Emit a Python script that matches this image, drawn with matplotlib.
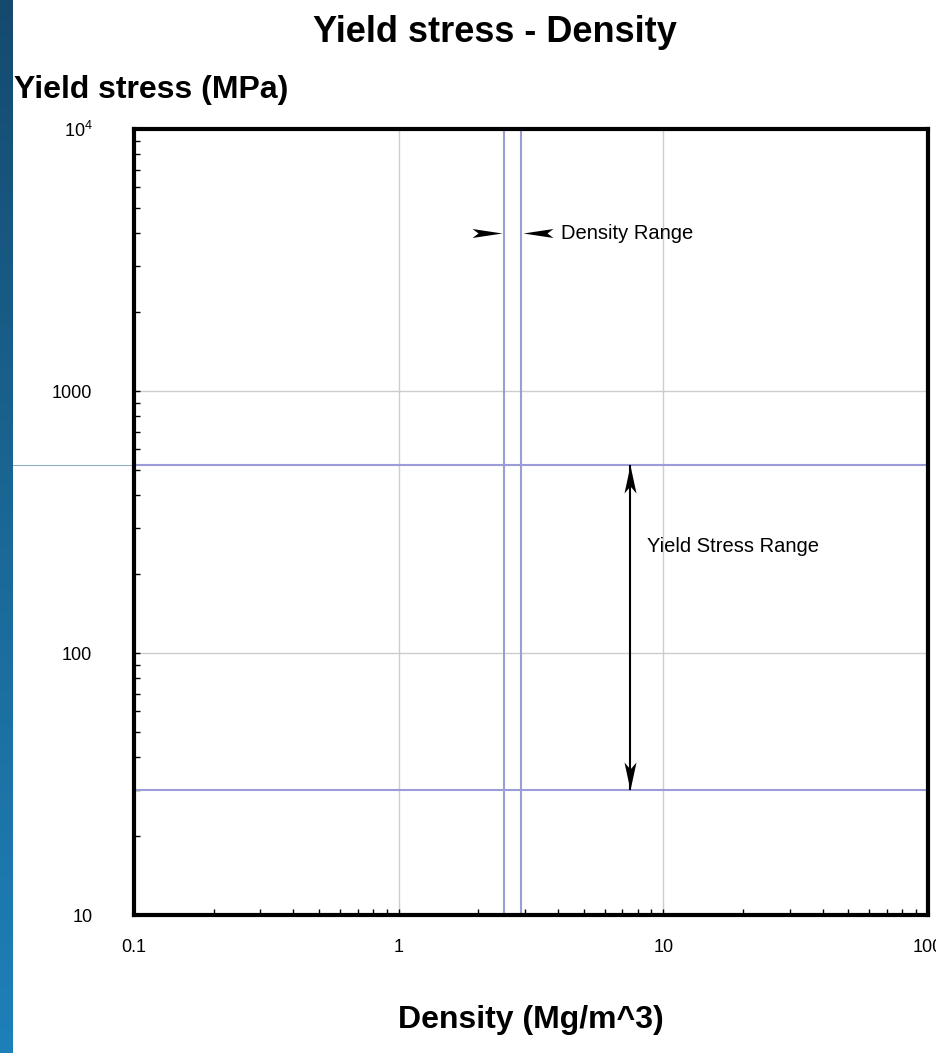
"""Yield stress vs density selection chart with range guide lines."""

import matplotlib.pyplot as plt
import numpy as np
from matplotlib.colors import LinearSegmentedColormap
from matplotlib.path import Path
from matplotlib.ticker import FixedFormatter, FixedLocator, LogLocator, NullFormatter

plt.rcParams["font.family"] = ["Liberation Sans", "DejaVu Sans"]
plt.rcParams["mathtext.default"] = "regular"

# axis ranges and tick labels
x_limits = [0.1, 100]
y_limits = [10, 1e4]
x_ticks = [0.1, 1, 10, 100]
x_tick_labels = ["0.1", "1", "10", "100"]
y_ticks = [10, 100, 1000, 1e4]
y_tick_labels = ["10", "100", "1000", r"$10^4$"]

# selection ranges
density_range = [2.5, 2.9]        # Mg/m^3
yield_stress_range = [30, 520]    # MPa

# annotation anchors
density_arrow_y = 4000
density_label = (4.1, 4000, "Density Range")
yield_arrow_x = 7.5
yield_label = (8.7, 256, "Yield Stress Range")

RANGE_COLOR = "#9c9cd8"
GRID_COLOR = "#cdcdcd"
DPI = 100


def stealth_marker(direction, length=29, half_width=4.8, notch=23, gap=0.0):
    """Arrowhead path in pixels, tip `gap` px before the origin, pointing along direction."""
    local = np.array([(0, 0), (-length, half_width), (-notch, 0), (-length, -half_width), (0, 0)],
                     dtype=float)
    local[:, 0] -= gap
    dx, dy = direction
    verts = np.column_stack([local[:, 0] * dx - local[:, 1] * dy,
                             local[:, 0] * dy + local[:, 1] * dx])
    codes = [Path.MOVETO, Path.LINETO, Path.LINETO, Path.LINETO, Path.CLOSEPOLY]
    # matplotlib scales a custom marker so its largest |coordinate| is half the marker size
    size_pts = 2 * np.abs(verts).max() * 72 / DPI
    return Path(verts, codes), size_pts


fig = plt.figure(figsize=(9.36, 10.53), dpi=DPI)

# blue strip down the left edge
strip_ax = fig.add_axes([0, 0, 13 / 936, 1])
strip_cmap = LinearSegmentedColormap.from_list("strip", ["#154a6f", "#1a6896", "#1e80b9"])
strip_ax.imshow(np.linspace(0, 1, 256)[:, None], aspect="auto", cmap=strip_cmap)
strip_ax.set_axis_off()

ax = fig.add_axes([134 / 936, 1 - 915 / 1053, 794 / 936, 786 / 1053])
ax.set_xscale("log")
ax.set_yscale("log")
ax.set_xlim(x_limits)
ax.set_ylim(y_limits)

ax.xaxis.set_major_locator(FixedLocator(x_ticks))
ax.xaxis.set_major_formatter(FixedFormatter(x_tick_labels))
ax.yaxis.set_major_locator(FixedLocator(y_ticks))
ax.yaxis.set_major_formatter(FixedFormatter(y_tick_labels))
for axis in (ax.xaxis, ax.yaxis):
    axis.set_minor_locator(LogLocator(base=10, subs=np.arange(2, 10)))
    axis.set_minor_formatter(NullFormatter())

ax.tick_params(which="both", direction="in", length=4.5, width=1, top=False, right=False)
ax.tick_params(axis="x", which="major", pad=17, labelsize=13)
ax.tick_params(axis="y", which="major", pad=30, labelsize=13)
for label in ax.get_yticklabels():
    label.set_va("center_baseline")
for spine in ax.spines.values():
    spine.set_linewidth(3)
    spine.set_zorder(5)

ax.grid(which="major", color=GRID_COLOR, linewidth=1, zorder=0)

for d in density_range:
    ax.axvline(d, color=RANGE_COLOR, linewidth=1.5, zorder=2)
for s in yield_stress_range:
    ax.axhline(s, color=RANGE_COLOR, linewidth=1.5, zorder=2)
# the upper limit line runs out past the frame to the left
ax.axhline(yield_stress_range[1], xmin=-0.153, xmax=0, clip_on=False,
           color="#8fb0c6", linewidth=0.8)

# density range: two arrowheads pointing in at the limit lines
for d, direction in zip(density_range, [(1, 0), (-1, 0)]):
    path, size = stealth_marker(direction, length=30, half_width=4.5, notch=24, gap=2)
    ax.plot(d, density_arrow_y, marker=path, markersize=size, color="black",
            markeredgewidth=0, zorder=4)
ax.text(density_label[0], density_label[1], density_label[2], fontsize=14.5,
        ha="left", va="center")

# yield stress range: double arrow between the limit lines
ax.plot([yield_arrow_x, yield_arrow_x], yield_stress_range, color="black",
        linewidth=1.5, solid_capstyle="butt", zorder=3)
for s, direction in zip(yield_stress_range, [(0, -1), (0, 1)]):
    path, size = stealth_marker(direction, length=28, half_width=6, notch=21)
    ax.plot(yield_arrow_x, s, marker=path, markersize=size, color="black",
            markeredgewidth=0, zorder=4)
ax.text(yield_label[0], yield_label[1], yield_label[2], fontsize=14.5,
        ha="left", va="center")

fig.text(495 / 936, 1 - 32 / 1053, "Yield stress - Density", fontsize=26,
         fontweight="bold", ha="center", va="center")
fig.text(14 / 936, 1 - 90 / 1053, "Yield stress (MPa)", fontsize=23,
         fontweight="bold", ha="left", va="center")
fig.text(531 / 936, 1 - 1020 / 1053, "Density (Mg/m^3)", fontsize=23,
         fontweight="bold", ha="center", va="center")

fig.savefig("out.png", dpi=DPI)
